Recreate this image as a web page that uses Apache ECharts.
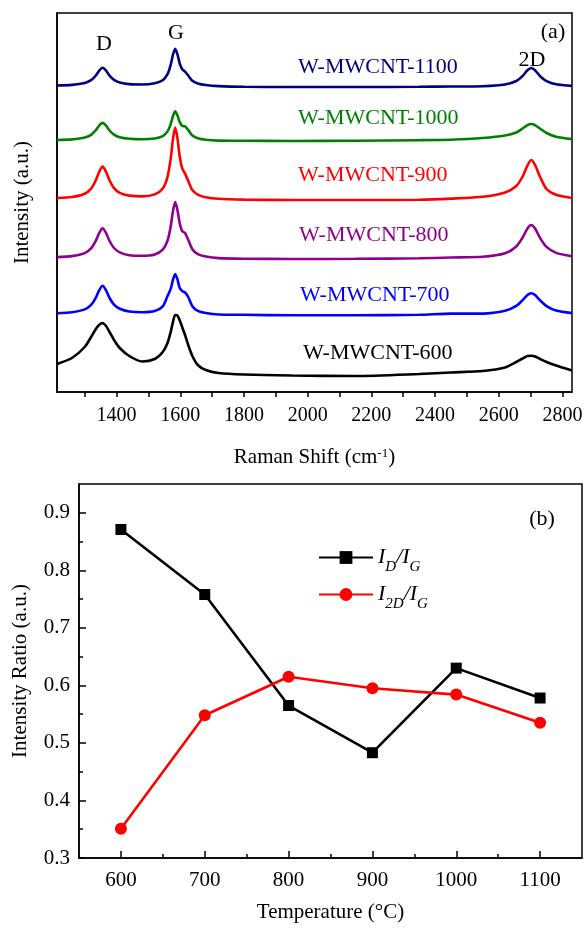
<!DOCTYPE html>
<html><head><meta charset="utf-8">
<script src="https://cdn.jsdelivr.net/npm/echarts@6/dist/echarts.min.js"></script>
<style>html,body{margin:0;padding:0;background:#fff}#c{width:587px;height:928px}</style>
</head><body><div id="c"></div>
<script>
// ---------- panel (a): Raman spectra (stacked, arbitrary units) ----------
const ramanShift = [1213,1260,1300,1320,1335,1345,1356,1367,1378,1392,1410,1440,1480,1520,1545,1560,1570,1577,1584,1591,1598,1606,1615,1625,1638,1655,1680,1720,1800,1950,2150,2350,2450,2550,2620,2655,2675,2690,2702,2714,2730,2750,2780,2830];
const int1100 = [306.5,307.1,309.0,311.8,316.5,321.1,324.2,321.3,316.4,312.1,309.5,307.9,307.5,308.7,311.7,317.8,327.2,337.2,343.2,337.9,328.9,322.7,320.4,316.5,311.2,308.6,307.0,305.9,305.2,305,305,305.2,305.5,305.8,307.5,311.0,316.1,321.7,324,321.7,315.8,310.9,307.7,306.1];
const int1000 = [252.0,252.6,254.4,257.2,261.8,266.2,269.1,266.3,261.5,257.4,254.8,253.3,252.8,253.5,255.9,260.6,267.9,275.8,280.7,276.8,270.1,266.1,265.7,262.1,256.4,253.7,252.2,251.4,251.2,251,251.3,251.8,252.3,254.0,256.5,259.5,263.5,266.9,268,266.9,263.3,259,255.3,252.9];
const int900 = [194.0,195.0,198.3,203.4,211.8,219.8,225.4,220.2,211.5,203.9,199.2,196.4,195.6,197.6,203.5,215.2,233.4,252.9,264.5,254.1,236.2,223.6,218.4,211.1,201.9,197.3,194.7,193.2,192.4,192,192,192.3,193.4,195.2,199.5,206,215.5,226.5,232,227,215,203,197.2,194];
const int800 = [134.9,135.9,138.9,143.6,151.3,158.7,163.8,159.0,151.0,144.0,139.6,136.8,136.2,137.6,142.3,151.3,165.6,180.8,190.0,182.3,169.2,160.8,159.0,152.2,142.7,137.9,135.5,133.9,133.3,133,133.2,133.7,134.5,135.2,138.7,145.5,154.5,163.5,167,163.5,153.9,145.1,139.1,135.8];
const int700 = [78.8,79.8,82.6,87.1,94.4,101.5,106.2,101.7,94.0,87.4,83.2,80.5,79.7,80.9,85.6,96.0,103.1,112.1,117.9,112.8,104.2,101.0,99.5,95.0,85.8,81.1,79.0,77.5,77.2,76.7,76.8,77.2,78.4,78.4,81.2,86.1,91.9,96.9,98.7,96.9,91.6,85.9,81.5,78.9];
const int600 = [28,34,45,55,63,67,69,66,60,52,44,36,30.5,33,40,49,60,70,77,76.5,72,65,57,47,36,27,22,19,17.5,16.5,16,18,19.5,21,24.5,30,33.5,36,36.3,35.5,33,30,26.5,21.5];
const sampleNames = ['W-MWCNT-1100','W-MWCNT-1000','W-MWCNT-900','W-MWCNT-800','W-MWCNT-700','W-MWCNT-600'];
const ramanTicks = [1300,1400,1500,1600,1700,1800,1900,2000,2100,2200,2300,2400,2500,2600,2700,2800];
const ramanLabels = [1400,1600,1800,2000,2200,2400,2600,2800];

// ---------- panel (b): intensity ratios ----------
const temperature = [600,700,800,900,1000,1100];
const ratioDG = [0.871,0.758,0.565,0.483,0.630,0.578];
const ratio2DG = [0.351,0.548,0.615,0.595,0.584,0.535];
const tempMinor = [650,750,850,950,1050];
const ratioTicks = [0.3,0.4,0.5,0.6,0.7,0.8,0.9];
const ratioMinor = [0.35,0.45,0.55,0.65,0.75,0.85];

const FONT = 'Liberation Serif';
const colors = ['#000080','#008000','#FF0000','#900090','#0000FF','#000000'];
const spectra = [int1100,int1000,int900,int800,int700,int600];

const G0 = {left:57, top:13, width:515, height:379};
const G1 = {left:79, top:484, width:503, height:374};

const txt = (text, x, y, color, size, align) => ({
  type:'text', x:x, y:y, z:50,
  style:{text:text, fill:color, fontSize:size, fontFamily:FONT, align:align||'center', verticalAlign:'middle'}
});
const labelPos = [[298,67],[298,118],[298,175],[299,235],[300,295],[303,353]];

const chart = echarts.init(document.getElementById('c'), null, {renderer:'canvas'});
const axisLine = {show:true, lineStyle:{color:'#000', width:1.5}};
const plain = v => String(v);
const option = {
  animation:false,
  backgroundColor:'#fff',
  grid:[
    Object.assign({show:true, borderColor:'#000', borderWidth:1.5, backgroundColor:'transparent'}, G0),
    Object.assign({show:true, borderColor:'#000', borderWidth:1.5, backgroundColor:'transparent'}, G1)
  ],
  xAxis:[
    {gridIndex:0, type:'value', min:1213, max:2830, axisLine:axisLine,
     axisTick:{show:true, customValues:ramanTicks, length:5, lineStyle:{color:'#000', width:1.5}},
     axisLabel:{customValues:ramanLabels, margin:14, fontSize:20, fontFamily:FONT, color:'#000', formatter:plain},
     splitLine:{show:false},
     name:'{n|Raman Shift (cm}{sup|-1}{n|)}', nameLocation:'middle', nameGap:55,
     nameTextStyle:{rich:{n:{fontSize:21, fontFamily:FONT, color:'#000', verticalAlign:'bottom'}, sup:{fontSize:13, fontFamily:FONT, color:'#000', verticalAlign:'top'}}}},
    {gridIndex:1, type:'value', min:550, max:1150, position:'bottom', axisLine:axisLine,
     axisTick:{show:true, inside:true, customValues:temperature, length:7, lineStyle:{color:'#000', width:1.5}},
     axisLabel:{customValues:temperature, margin:12, fontSize:21, fontFamily:FONT, color:'#000', formatter:plain},
     splitLine:{show:false},
     name:'Temperature (°C)', nameLocation:'middle', nameGap:44,
     nameTextStyle:{fontSize:21, fontFamily:FONT, color:'#000'}},
    {gridIndex:1, type:'value', min:550, max:1150, position:'bottom', offset:0, axisLine:{show:false},
     axisTick:{show:true, inside:true, customValues:tempMinor, length:4, lineStyle:{color:'#000', width:1.5}},
     axisLabel:{show:false}, splitLine:{show:false}}
  ],
  yAxis:[
    {gridIndex:0, type:'value', min:0, max:379, axisLine:axisLine, axisTick:{show:false}, axisLabel:{show:false}, splitLine:{show:false},
     name:'Intensity (a.u.)', nameLocation:'middle', nameGap:24,
     nameTextStyle:{fontSize:21, fontFamily:FONT, color:'#000'}},
    {gridIndex:1, type:'value', min:0.3, max:0.95, position:'left', axisLine:axisLine,
     axisTick:{show:true, inside:true, customValues:ratioTicks, length:7, lineStyle:{color:'#000', width:1.5}},
     axisLabel:{customValues:ratioTicks, margin:9, fontSize:21, fontFamily:FONT, color:'#000', formatter:v=>Number(v).toFixed(1)},
     splitLine:{show:false},
     name:'Intensity Ratio (a.u.)', nameLocation:'middle', nameGap:48,
     nameTextStyle:{fontSize:21, fontFamily:FONT, color:'#000'}},
    {gridIndex:1, type:'value', min:0.3, max:0.95, position:'left', offset:0, axisLine:{show:false},
     axisTick:{show:true, inside:true, customValues:ratioMinor, length:4, lineStyle:{color:'#000', width:1.5}},
     axisLabel:{show:false}, splitLine:{show:false}}
  ],
  legend:{
    orient:'vertical', left:318, top:540, padding:0, itemWidth:54, itemHeight:16, itemGap:2,
    data:['ID/IG','I2D/IG'],
    formatter:n => n==='ID/IG' ? '{i|I}{s|D}{i|/I}{s|G}' : '{i|I}{s|2D}{i|/I}{s|G}',
    textStyle:{rich:{
      i:{fontSize:22, fontStyle:'italic', fontFamily:FONT, color:'#000', lineHeight:22},
      s:{fontSize:15, fontStyle:'italic', fontFamily:FONT, color:'#000', lineHeight:15, padding:[20,0,0,0]}
    }}
  },
  series: spectra.map((arr,k)=>({
    type:'line', name:sampleNames[k], xAxisIndex:0, yAxisIndex:0,
    data: ramanShift.map((x,i)=>[x, arr[i]]),
    showSymbol:false, symbol:'none', smooth:0.25,
    lineStyle:{color:colors[k], width:2.6}, itemStyle:{color:colors[k]}
  })).concat([
    {type:'line', name:'ID/IG', xAxisIndex:1, yAxisIndex:1,
     data: temperature.map((t,i)=>[t, ratioDG[i]]),
     symbol:'rect', symbolSize:11, lineStyle:{color:'#000', width:2.6}, itemStyle:{color:'#000'}},
    {type:'line', name:'I2D/IG', xAxisIndex:1, yAxisIndex:1,
     data: temperature.map((t,i)=>[t, ratio2DG[i]]),
     symbol:'circle', symbolSize:12, lineStyle:{color:'#FF0000', width:2.6}, itemStyle:{color:'#FF0000'}}
  ]),
  graphic: [
    txt('D',104,44,'#000',22), txt('G',176,33,'#000',22), txt('2D',532,60,'#000',22),
    txt('(a)',553,32,'#000',22), txt('(b)',542,519,'#000',22)
  ].concat(sampleNames.map((n,k)=>txt(n, labelPos[k][0], labelPos[k][1], colors[k], 22, 'left')))
};
chart.setOption(option);
</script></body></html>
